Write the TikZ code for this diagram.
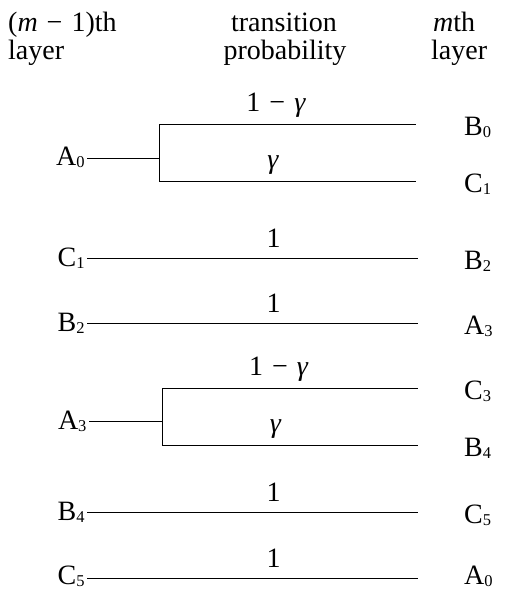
\documentclass[tikz,border=0pt]{standalone}
\usepackage{fontspec}
\setmainfont{Liberation Serif}
\newcommand\sbs[1]{\raisebox{-2.5pt}{\fontsize{16.5}{16.5}\selectfont #1}}
\newcommand\mgap{\hspace{9pt}}
\begin{document}
\begin{tikzpicture}[x=1pt,y=-1pt,
  txt/.style={font=\fontsize{28}{30}\selectfont, inner sep=0pt},
  leftlbl/.style={txt, anchor=base east, outer sep=2.5pt},
  rightlbl/.style={txt, anchor=base west},
  head/.style={txt, anchor=base west, text height=19pt, text depth=5pt},
  headc/.style={head, anchor=base},
  probone/.style={txt, above=10pt, pos=0.564},
  probg/.style={txt, above=6pt},
  link/.style={line width=0.8pt}]
\useasboundingbox (0,0) rectangle (505,590);
% header
\node[head] (h1) at (8,31) {(\textit{m}\mgap−\mgap1)th};
\node[head] (h2) at (8,59) {layer};
\node[headc] (h3) at (284,31) {transition};
\node[headc] (h4) at (285,59) {probability};
\node[head] (h5) at (433,31) {\textit{m}th};
\node[head] (h6) at (431,59) {layer};
% left labels
\node[leftlbl] (lA0) at (87,165) {A\sbs{0}};
\node[leftlbl] (lC1) at (87,266) {C\sbs{1}};
\node[leftlbl] (lB2) at (87,331) {B\sbs{2}};
\node[leftlbl] (lA3) at (89,429) {A\sbs{3}};
\node[leftlbl] (lB4) at (87,520) {B\sbs{4}};
\node[leftlbl] (lC5) at (87,584) {C\sbs{5}};
% right labels
\node[rightlbl] (rB0) at (464,135) {B\sbs{0}};
\node[rightlbl] (rC1) at (464,192) {C\sbs{1}};
\node[rightlbl] (rB2) at (464,269) {B\sbs{2}};
\node[rightlbl] (rA3) at (464,334) {A\sbs{3}};
\node[rightlbl] (rC3) at (464,399) {C\sbs{3}};
\node[rightlbl] (rB4) at (464,456) {B\sbs{4}};
\node[rightlbl] (rC5) at (464,523) {C\sbs{5}};
\node[rightlbl] (rA0) at (464,584) {A\sbs{0}};
% line ends and forks
\coordinate (eB0) at (416,124);
\coordinate (eC1) at (416,181);
\coordinate (eB2) at (418,258);
\coordinate (eA3) at (418,323);
\coordinate (eC3) at (418,388);
\coordinate (eB4) at (418,445);
\coordinate (eC5) at (418,512);
\coordinate (eA0) at (418,578);
\coordinate (fA0) at (159,158);
\coordinate (fA3) at (162,421);
% A0 branch
\draw[link] (lA0.east |- fA0) -- (fA0);
\draw[link] (fA0 |- eB0) -- (fA0 |- eC1);
\draw[link] (fA0 |- eB0) -- node[probg, pos=0.456] {1\mgap−\mgap\textit{γ}} (eB0);
\draw[link] (fA0 |- eC1) -- node[probg, pos=0.444] {\textit{γ}} (eC1);
% straight lines
\draw[link] (lC1.east |- eB2) -- node[probone] {1} (eB2);
\draw[link] (lB2.east |- eA3) -- node[probone] {1} (eA3);
% A3 branch
\draw[link] (lA3.east |- fA3) -- (fA3);
\draw[link] (fA3 |- eC3) -- (fA3 |- eB4);
\draw[link] (fA3 |- eC3) -- node[probg, pos=0.456] {1\mgap−\mgap\textit{γ}} (eC3);
\draw[link] (fA3 |- eB4) -- node[probg, pos=0.444] {\textit{γ}} (eB4);
% straight lines
\draw[link] (lB4.east |- eC5) -- node[probone] {1} (eC5);
\draw[link] (lC5.east |- eA0) -- node[probone] {1} (eA0);
\end{tikzpicture}
\end{document}
